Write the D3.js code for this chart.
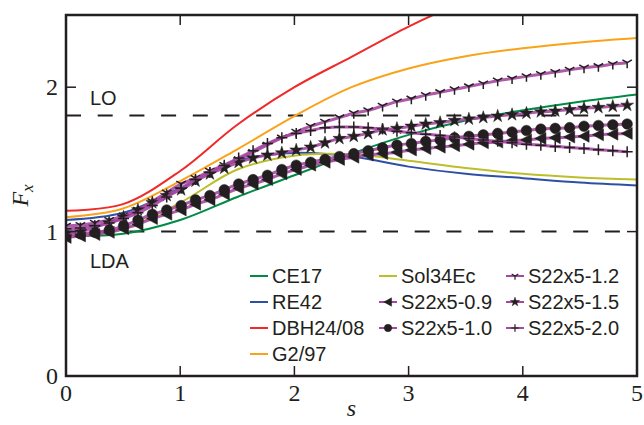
<!DOCTYPE html>
<html>
<head>
<meta charset="utf-8">
<script src="https://cdn.jsdelivr.net/npm/d3@7"></script>
<style>
  body { margin: 0; background: #fff; }
  svg { display: block; }
  .tick-label { font-family: "Liberation Serif", "DejaVu Serif", serif; font-size: 24px; fill: #231f20; }
  .legend-text, .note { font-family: "Liberation Sans", Arial, sans-serif; font-size: 20px; fill: #231f20; }
</style>
</head>
<body>
<div class="chart"></div>
<script>
const width = 644;
const height = 425;
const margin = { top: 15, right: 7, bottom: 49, left: 66 };

// smooth functionals, read at knots of s
const knotS = [0, 0.5, 1, 1.5, 2, 2.5, 3, 3.5, 4, 4.5, 5];
const ce17 = [0.97, 0.985, 1.08, 1.24, 1.39, 1.54, 1.67, 1.77, 1.84, 1.90, 1.95];
const re42 = [1.08, 1.13, 1.30, 1.49, 1.545, 1.52, 1.45, 1.40, 1.37, 1.34, 1.32];
const dbh2408 = [1.145, 1.19, 1.42, 1.74, 2.0, 2.21, 2.42, 2.60, 2.76, 2.90, 3.02];
const g297 = [1.10, 1.16, 1.35, 1.57, 1.80, 2.0, 2.13, 2.215, 2.27, 2.31, 2.34];
const sol34ec = [0.96, 1.02, 1.20, 1.43, 1.525, 1.535, 1.49, 1.44, 1.40, 1.375, 1.36];

// S22x5 family, read at every marker
const markS = [0, 0.126, 0.252, 0.378, 0.504, 0.63, 0.756, 0.882, 1.008, 1.134,
  1.26, 1.386, 1.512, 1.638, 1.764, 1.89, 2.016, 2.142, 2.268, 2.394,
  2.52, 2.646, 2.772, 2.898, 3.024, 3.15, 3.276, 3.402, 3.528, 3.654,
  3.78, 3.906, 4.032, 4.158, 4.284, 4.41, 4.536, 4.662, 4.788, 4.914];
const s22_09 = [0.96, 0.97, 0.98, 0.995, 1.02, 1.05, 1.09, 1.12, 1.15, 1.19,
  1.22, 1.26, 1.30, 1.33, 1.36, 1.40, 1.43, 1.46, 1.48, 1.50,
  1.515, 1.53, 1.54, 1.55, 1.565, 1.575, 1.585, 1.595, 1.605, 1.615,
  1.62, 1.63, 1.635, 1.645, 1.65, 1.655, 1.66, 1.67, 1.675, 1.68];
const s22_10 = [0.975, 0.985, 0.995, 1.01, 1.04, 1.08, 1.12, 1.15, 1.18, 1.22,
  1.25, 1.29, 1.33, 1.36, 1.39, 1.43, 1.46, 1.48, 1.50, 1.52,
  1.54, 1.56, 1.58, 1.60, 1.61, 1.625, 1.635, 1.65, 1.66, 1.67,
  1.68, 1.69, 1.70, 1.71, 1.715, 1.72, 1.73, 1.735, 1.74, 1.745];
const s22_12 = [1.04, 1.045, 1.06, 1.08, 1.11, 1.15, 1.21, 1.27, 1.33, 1.37,
  1.42, 1.46, 1.50, 1.55, 1.60, 1.65, 1.69, 1.73, 1.76, 1.79,
  1.82, 1.84, 1.87, 1.90, 1.92, 1.945, 1.965, 1.985, 2.005, 2.025,
  2.045, 2.06, 2.075, 2.09, 2.105, 2.12, 2.135, 2.145, 2.16, 2.17];
const s22_15 = [0.99, 1.0, 1.03, 1.06, 1.10, 1.15, 1.20, 1.25, 1.29, 1.35,
  1.40, 1.44, 1.48, 1.51, 1.53, 1.545, 1.565, 1.585, 1.615, 1.645,
  1.66, 1.68, 1.705, 1.715, 1.73, 1.745, 1.755, 1.77, 1.78, 1.79,
  1.80, 1.81, 1.82, 1.83, 1.835, 1.845, 1.855, 1.86, 1.868, 1.875];
const s22_20 = [1.02, 1.025, 1.04, 1.06, 1.09, 1.13, 1.18, 1.24, 1.30, 1.36,
  1.41, 1.46, 1.51, 1.56, 1.61, 1.65, 1.68, 1.70, 1.72, 1.725,
  1.725, 1.72, 1.71, 1.695, 1.685, 1.675, 1.665, 1.655, 1.645, 1.635,
  1.625, 1.615, 1.605, 1.598, 1.59, 1.582, 1.575, 1.567, 1.56, 1.553];

const xTicks = [0, 1, 2, 3, 4, 5];
const yTicks = [0, 1, 2];
const loBound = 1.804;
const ldaBound = 1;

const smoothSeries = [
  { name: 'CE17', values: ce17, color: '#008a45' },
  { name: 'RE42', values: re42, color: '#2e4fa6' },
  { name: 'DBH24/08', values: dbh2408, color: '#ee2a2a' },
  { name: 'G2/97', values: g297, color: '#f9a31a' },
  { name: 'Sol34Ec', values: sol34ec, color: '#bcbf2c' }
];
const markSeries = [
  { name: 'S22x5-0.9', values: s22_09, marker: 'triLeft' },
  { name: 'S22x5-1.0', values: s22_10, marker: 'circle' },
  { name: 'S22x5-1.2', values: s22_12, marker: 'triDown' },
  { name: 'S22x5-1.5', values: s22_15, marker: 'star' },
  { name: 'S22x5-2.0', values: s22_20, marker: 'plus' }
];
const magenta = '#a548a0';
const ink = '#231f20';

const svg = d3.select('.chart').append('svg')
    .attr('width', width)
    .attr('height', height);

const x = d3.scaleLinear().domain([0, 5]).range([margin.left, width - margin.right]);
const y = d3.scaleLinear().domain([0, 2.5]).range([height - margin.bottom, margin.top]);

svg.append('clipPath').attr('id', 'plotclip')
  .append('rect')
    .attr('x', x(0)).attr('y', y(2.5))
    .attr('width', x(5) - x(0)).attr('height', y(0) - y(2.5));

const plot = svg.append('g').attr('clip-path', 'url(#plotclip)');

// reference bounds
[loBound, ldaBound].forEach(v => {
  plot.append('line')
      .attr('x1', x(0)).attr('x2', x(5))
      .attr('y1', y(v)).attr('y2', y(v))
      .attr('stroke', ink)
      .attr('stroke-width', 2)
      .attr('stroke-dasharray', '15 16.7');
});

const smoothLine = d3.line()
    .x(d => x(d[0]))
    .y(d => y(d[1]))
    .curve(d3.curveCatmullRom.alpha(0.5));
const markLine = d3.line()
    .x(d => x(d[0]))
    .y(d => y(d[1]))
    .curve(d3.curveMonotoneX);

smoothSeries.forEach(sr => {
  plot.append('path')
      .datum(knotS.map((s, i) => [s, sr.values[i]]))
      .attr('fill', 'none')
      .attr('stroke', sr.color)
      .attr('stroke-width', 2)
      .attr('d', smoothLine);
});

// marker shapes
function markerPath(kind, r) {
  if (kind === 'circle') return d3.symbol(d3.symbolCircle, Math.PI * r * r)();
  if (kind === 'star') return d3.symbol(d3.symbolStar, r * r / 0.89)();
  if (kind === 'triLeft') {
    return `M${-r},0L${r * 0.85},${-r}L${r * 0.85},${r}Z`;
  }
  if (kind === 'triDown') {
    const c = r * Math.cos(Math.PI / 6), h = r * 0.5;
    return `M0,0L0,${r}M0,0L${-c},${-h}M0,0L${c},${-h}`;
  }
  return `M${-r},0L${r},0M0,${-r}L0,${r}`;
}
const lineMarker = k => k === 'triDown' || k === 'plus';
const markerSize = { circle: 5.3, star: 6.8, triLeft: 6, triDown: 5.5, plus: 5.5 };

markSeries.forEach(sr => {
  const pts = markS.map((s, i) => [s, sr.values[i]]);
  plot.append('path')
      .datum(pts)
      .attr('fill', 'none')
      .attr('stroke', magenta)
      .attr('stroke-opacity', 0.9)
      .attr('stroke-width', 3)
      .attr('d', markLine);
  plot.selectAll(null)
    .data(pts)
    .enter().append('path')
      .attr('transform', d => `translate(${x(d[0])},${y(d[1])})`)
      .attr('d', markerPath(sr.marker, markerSize[sr.marker]))
      .attr('fill', lineMarker(sr.marker) ? 'none' : ink)
      .attr('stroke', ink)
      .attr('stroke-width', lineMarker(sr.marker) ? 1.5 : 0.5);
});

// frame
svg.append('rect')
    .attr('x', x(0)).attr('y', y(2.5))
    .attr('width', x(5) - x(0)).attr('height', y(0) - y(2.5))
    .attr('fill', 'none')
    .attr('stroke', ink)
    .attr('stroke-width', 2.5);

// inward ticks on all four sides
const tickLen = 10;
xTicks.slice(1, -1).forEach(t => {
  svg.append('line').attr('x1', x(t)).attr('x2', x(t))
      .attr('y1', y(0)).attr('y2', y(0) - tickLen)
      .attr('stroke', ink).attr('stroke-width', 1.5);
  svg.append('line').attr('x1', x(t)).attr('x2', x(t))
      .attr('y1', y(2.5)).attr('y2', y(2.5) + tickLen)
      .attr('stroke', ink).attr('stroke-width', 1.5);
});
yTicks.slice(1).forEach(t => {
  svg.append('line').attr('x1', x(0)).attr('x2', x(0) + tickLen)
      .attr('y1', y(t)).attr('y2', y(t))
      .attr('stroke', ink).attr('stroke-width', 1.5);
  svg.append('line').attr('x1', x(5)).attr('x2', x(5) - tickLen)
      .attr('y1', y(t)).attr('y2', y(t))
      .attr('stroke', ink).attr('stroke-width', 1.5);
});

// tick labels
svg.selectAll('.xlab')
  .data(xTicks)
  .enter().append('text')
    .attr('class', 'tick-label')
    .attr('x', d => x(d))
    .attr('y', y(0) + 25)
    .attr('text-anchor', 'middle')
    .text(d => d);
svg.selectAll('.ylab')
  .data(yTicks)
  .enter().append('text')
    .attr('class', 'tick-label')
    .attr('x', x(0) - 8)
    .attr('y', d => y(d) + 8)
    .attr('text-anchor', 'end')
    .text(d => d);

// axis titles
svg.append('text')
    .attr('class', 'tick-label')
    .attr('x', (x(0) + x(5)) / 2)
    .attr('y', 416)
    .attr('text-anchor', 'middle')
    .style('font-style', 'italic')
    .text('s');
const fx = svg.append('text')
    .attr('class', 'tick-label')
    .attr('transform', `translate(28, ${y(1.25)}) rotate(-90)`)
    .attr('text-anchor', 'middle')
    .style('font-style', 'italic');
fx.append('tspan').text('F');
fx.append('tspan').attr('dy', 5).style('font-size', '17px').text('x');

// bound notes
svg.append('text').attr('class', 'note').attr('x', 90).attr('y', 105).text('LO');
svg.append('text').attr('class', 'note').attr('x', 90).attr('y', 268).text('LDA');

// legend
const legendItems = [
  { name: 'CE17', color: '#008a45', col: 0, row: 0 },
  { name: 'RE42', color: '#2e4fa6', col: 0, row: 1 },
  { name: 'DBH24/08', color: '#ee2a2a', col: 0, row: 2 },
  { name: 'G2/97', color: '#f9a31a', col: 0, row: 3 },
  { name: 'Sol34Ec', color: '#bcbf2c', col: 1, row: 0 },
  { name: 'S22x5-0.9', color: magenta, marker: 'triLeft', col: 1, row: 1 },
  { name: 'S22x5-1.0', color: magenta, marker: 'circle', col: 1, row: 2 },
  { name: 'S22x5-1.2', color: magenta, marker: 'triDown', col: 2, row: 0 },
  { name: 'S22x5-1.5', color: magenta, marker: 'star', col: 2, row: 1 },
  { name: 'S22x5-2.0', color: magenta, marker: 'plus', col: 2, row: 2 }
];
const colX = [250, 379, 506];
const rowY = [276, 302, 328, 354];
const legend = svg.append('g');
legendItems.forEach(it => {
  const g = legend.append('g')
      .attr('transform', `translate(${colX[it.col]},${rowY[it.row]})`);
  g.append('line').attr('x1', 0).attr('x2', 18)
      .attr('stroke', it.color).attr('stroke-width', 2);
  if (it.marker) {
    g.append('path')
        .attr('transform', 'translate(9,0)')
        .attr('d', markerPath(it.marker, markerSize[it.marker] * 0.7))
        .attr('fill', lineMarker(it.marker) ? 'none' : ink)
        .attr('stroke', ink)
        .attr('stroke-width', lineMarker(it.marker) ? 1.2 : 0.5);
  }
  g.append('text')
      .attr('class', 'legend-text')
      .attr('x', 22)
      .attr('y', 7)
      .text(it.name);
});
</script>
</body>
</html>
